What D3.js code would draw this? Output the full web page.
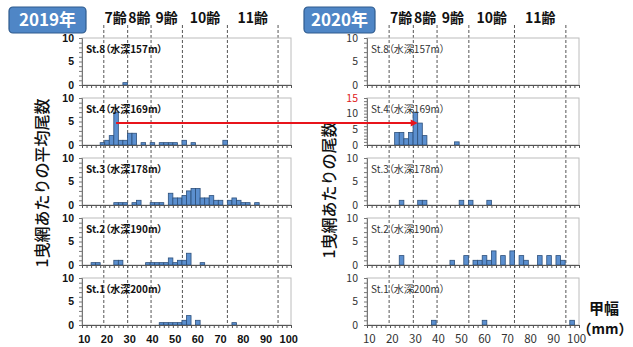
<!DOCTYPE html>
<html><head><meta charset="utf-8">
<script src="https://cdn.jsdelivr.net/npm/d3@7"></script>
<style>body{margin:0;background:#fff} svg{display:block} .st{font-feature-settings:"palt"}</style>
</head><body>
<svg id="chart" width="633" height="347"></svg>
<script>
// Carapace-width frequency (2 mm bins, value = bin centre) per station
const stationNames = ["St.8（水深157m）", "St.4（水深169m）", "St.3（水深178m）", "St.2（水深190m）", "St.1（水深200m）"];

const y2019_st8 = [[28, 0.5]];
const y2019_st4 = [[18, 0.5], [20, 1], [22, 2], [24, 7], [26, 1], [28, 1], [30, 2.5], [32, 2.5], [36, 0.5], [40, 0.5], [44, 0.5], [46, 0.5], [48, 0.5], [50, 0.5], [54, 1], [58, 0.5], [72, 1]];
const y2019_st3 = [[24, 0.5], [26, 0.5], [28, 0.5], [32, 0.5], [34, 1], [40, 0.5], [42, 0.5], [44, 0.5], [48, 2.5], [50, 1.5], [52, 1.5], [54, 2], [56, 3], [58, 3.5], [60, 3.5], [62, 1.5], [64, 1.5], [66, 2], [68, 1], [70, 1], [74, 1], [76, 1.5], [78, 1], [80, 0.5], [82, 0.5], [86, 0.5]];
const y2019_st2 = [[14, 0.5], [16, 0.5], [24, 1], [26, 1], [38, 0.5], [40, 0.5], [42, 0.5], [44, 0.5], [46, 0.5], [48, 1.5], [50, 0.5], [52, 1], [54, 1], [56, 2.5], [62, 0.5]];
const y2019_st1 = [[44, 0.5], [46, 0.5], [48, 0.5], [50, 0.5], [52, 0.5], [54, 1], [56, 2], [60, 1], [76, 0.5]];

const y2020_st8 = [];
const y2020_st4 = [[22, 4], [24, 4], [26, 2], [28, 4], [30, 10.5], [32, 7], [34, 3], [48, 1]];
const y2020_st3 = [[24, 1], [32, 1], [34, 1], [50, 1], [54, 1], [62, 1]];
const y2020_st2 = [[24, 2], [46, 1], [52, 2], [56, 1], [58, 1], [60, 2], [62, 1], [64, 3], [68, 2], [72, 3], [76, 2], [78, 1], [84, 2], [88, 2], [92, 2], [94, 1]];
const y2020_st1 = [[38, 1], [60, 1], [98, 1]];

const series2019 = [y2019_st8, y2019_st4, y2019_st3, y2019_st2, y2019_st1];
const series2020 = [y2020_st8, y2020_st4, y2020_st3, y2020_st2, y2020_st1];
const yMax2019 = [10, 10, 10, 10, 10];
const yMax2020 = [10, 15, 10, 10, 10];

const xTickLabels = [10, 20, 30, 40, 50, 60, 70, 80, 90, 100];
const instarBounds = [18.6, 29.1, 39.4, 53.2, 73, 95.3];
const instarLabels = ["7齢", "8齢", "9齢", "10齢", "11齢"];

const svg = d3.select("#chart");
const FONT = "'Noto Sans CJK JP', 'Noto Sans', sans-serif";
const LAT = "'Liberation Sans', 'Noto Sans', sans-serif";

const panelTops = [38, 98, 158, 218, 278];
const panelH = 47;
const binW = 2;

function drawYear(opts) {
  const { left, right, data, maxes, bold, tickX } = opts;
  const x = d3.scaleLinear().domain([9, 101]).range([left, right]);
  const g = svg.append("g");
  const scales = [];

  // instar boundaries
  instarBounds.forEach(b => {
    g.append("line").attr("x1", x(b)).attr("x2", x(b))
      .attr("y1", 25).attr("y2", panelTops[4] + panelH)
      .attr("stroke", "#555").attr("stroke-width", 1).attr("stroke-dasharray", "3,2");
  });

  panelTops.forEach((top, i) => {
    const y = d3.scaleLinear().domain([0, maxes[i]]).range([top + panelH, top]);
    scales.push(y);
    const p = g.append("g");
    p.append("rect").attr("x", left).attr("y", top).attr("width", right - left).attr("height", panelH)
      .attr("fill", "none").attr("stroke", "#bcbcbc").attr("stroke-width", 1);

    p.selectAll("rect.bar").data(data[i]).join("rect").attr("class", "bar")
      .attr("x", d => x(d[0] - binW / 2))
      .attr("y", d => y(d[1]))
      .attr("width", d => x(d[0] + binW / 2) - x(d[0] - binW / 2))
      .attr("height", d => y(0) - y(d[1]))
      .attr("fill", "#5b8fcf").attr("stroke", "#2c4f7a").attr("stroke-width", 0.8);

    // y axis with unit minor ticks
    const yAxis = d3.axisLeft(y).tickValues(d3.range(0, maxes[i] + 1, 1)).tickSize(3).tickFormat("");
    const ya = p.append("g").attr("transform", `translate(${left},0)`).call(yAxis);
    ya.select(".domain").attr("stroke", "#777");
    ya.selectAll(".tick line").attr("stroke", "#777");

    const majors = maxes[i] === 15 ? [0, 5, 10, 15] : [0, 5, 10];
    p.selectAll("text.yl").data(majors).join("text").attr("class", "yl")
      .attr("x", tickX).attr("y", d => y(d)).attr("dy", "0.35em")
      .attr("text-anchor", "end").attr("font-family", bold ? LAT : FONT)
      .attr("font-weight", bold ? "bold" : "normal").attr("font-size", bold ? 10.5 : 10.5)
      .attr("fill", d => d === 15 ? "#e02020" : (bold ? "#111" : "#333"))
      .text(d => d);

    // x axis with a tick at every bin edge
    const xAxis = d3.axisBottom(x).tickValues(d3.range(9, 102, 2)).tickSize(3).tickFormat("");
    const xa = p.append("g").attr("transform", `translate(0,${top + panelH})`).call(xAxis);
    xa.select(".domain").attr("stroke", "#555");
    xa.selectAll(".tick line").attr("stroke", "#555");

    p.append("text").attr("class", "st").attr("x", left + 4).attr("y", top + 15)
      .attr("font-family", FONT).attr("font-weight", bold ? "bold" : "normal")
      .attr("font-size", 10).attr("fill", bold ? "#111" : "#333")
      .text(stationNames[i]);
  });

  g.selectAll("text.xl").data(xTickLabels).join("text").attr("class", "xl")
    .attr("x", d => x(d)).attr("y", 339).attr("dy", "0.35em").attr("text-anchor", "middle")
    .attr("font-family", bold ? LAT : FONT).attr("font-weight", bold ? "bold" : "normal")
    .attr("font-size", bold ? 11 : 11.5).attr("fill", bold ? "#111" : "#333")
    .text(d => d);

  g.selectAll("text.inst").data(instarLabels).join("text").attr("class", "inst")
    .attr("x", (d, k) => (x(instarBounds[k]) + x(instarBounds[k + 1])) / 2)
    .attr("y", 18).attr("dy", "0.35em").attr("text-anchor", "middle")
    .attr("font-family", FONT).attr("font-weight", "bold").attr("font-size", 14).attr("fill", "#111")
    .text(d => d);

  return { x, scales };
}

const L = drawYear({ left: 82, right: 291, data: series2019, maxes: yMax2019, bold: true, tickX: 74 });
const R = drawYear({ left: 367, right: 579, data: series2020, maxes: yMax2020, bold: false, tickX: 358 });

// year badges
function badge(x0, w, label) {
  svg.append("rect").attr("x", x0).attr("y", 7).attr("width", w).attr("height", 26).attr("rx", 4)
    .attr("fill", "#4f86c6").attr("stroke", "#2f5b8e").attr("stroke-width", 1.2);
  svg.append("text").attr("x", x0 + w / 2).attr("y", 20).attr("dy", "0.35em").attr("text-anchor", "middle")
    .attr("font-family", FONT).attr("font-weight", "bold").attr("font-size", 17).attr("fill", "#fff")
    .text(label);
}
badge(9, 77, "2019年");
badge(304, 71, "2020年");

// y-axis titles
svg.append("text").attr("transform", "translate(42,183) rotate(-90)")
  .attr("text-anchor", "middle").attr("dy", "0.35em")
  .attr("font-family", FONT).attr("font-weight", 500).attr("font-size", 16).attr("fill", "#111")
  .text("1曳網あたりの平均尾数");
svg.append("text").attr("transform", "translate(329,190) rotate(-90)")
  .attr("text-anchor", "middle").attr("dy", "0.35em")
  .attr("font-family", FONT).attr("font-weight", 500).attr("font-size", 16).attr("fill", "#111")
  .text("1曳網あたりの尾数");

// x-axis title
svg.append("text").attr("x", 604).attr("y", 309).attr("dy", "0.35em").attr("text-anchor", "middle")
  .attr("font-family", FONT).attr("font-weight", "bold").attr("font-size", 15).attr("fill", "#111").text("甲幅");
svg.append("text").attr("x", 605).attr("y", 329).attr("dy", "0.35em").attr("text-anchor", "middle")
  .attr("font-family", FONT).attr("font-weight", "bold").attr("font-size", 14).attr("fill", "#111").text("（mm）");

// shift arrow: St.4 mode in 2019 to 2020
const arrowFrom = { size: 24, value: 4.7 };
const arrowTo = { size: 31, value: 7 };
const ax1 = L.x(arrowFrom.size), ay1 = L.scales[1](arrowFrom.value);
const ax2 = R.x(arrowTo.size), ay2 = R.scales[1](arrowTo.value);
svg.append("line").attr("x1", ax1).attr("y1", ay1).attr("x2", ax2 - 6).attr("y2", ay2)
  .attr("stroke", "#e8141b").attr("stroke-width", 2);
svg.append("path")
  .attr("d", `M${ax2},${ay2} L${ax2 - 7},${ay2 - 3.5} L${ax2 - 7},${ay2 + 3.5} Z`)
  .attr("fill", "#e8141b");
</script>
</body></html>
